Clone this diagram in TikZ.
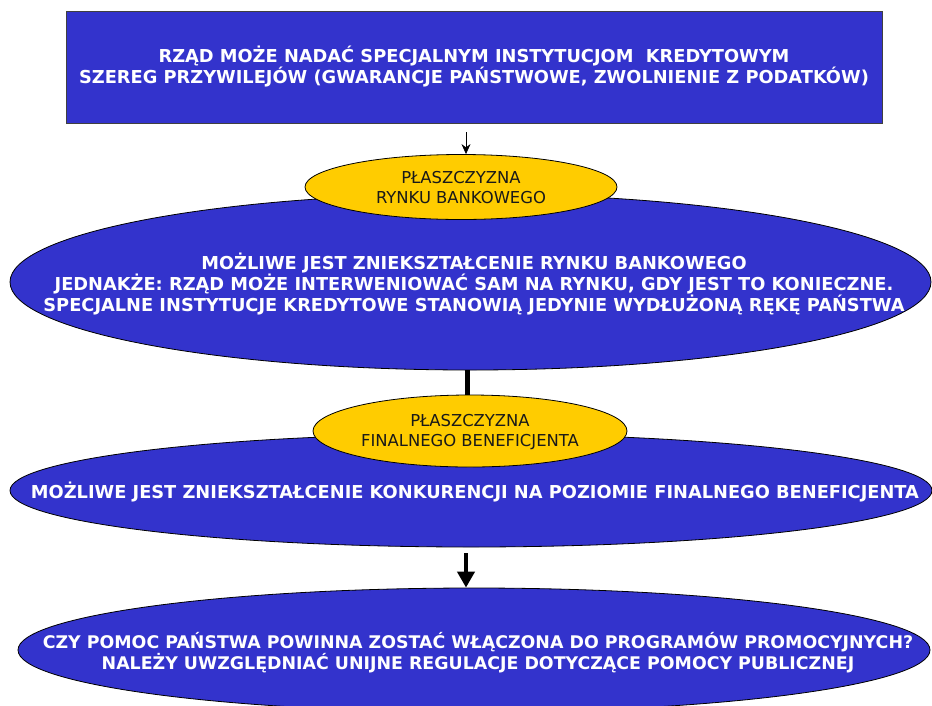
\documentclass[tikz,border=0pt]{standalone}
\usepackage{fontspec}
\setmainfont{DejaVu Sans}
\usetikzlibrary{shapes.geometric,arrows.meta}
\definecolor{panelblue}{HTML}{3333CC}
\definecolor{tagyellow}{HTML}{FFCC00}
\begin{document}
\begin{tikzpicture}[x=1pt,y=-1pt,
  blueoval/.style={ellipse, draw=black, line width=0.8pt, fill=panelblue, inner sep=0pt},
  tagoval/.style={ellipse, draw=black, line width=0.8pt, fill=tagyellow, inner sep=0pt},
  bluetext/.style={text=white, font=\bfseries\fontsize{17.8}{21}\selectfont, align=center, inner sep=0pt},
  tagtext/.style={text=black!90, font=\fontsize{16.4}{19.5}\selectfont, align=center, inner sep=0pt}]
\useasboundingbox (0,0) rectangle (932,705);
\clip (0,0) rectangle (932,705);

% header box
\node[draw=black!75, line width=0.8pt, fill=panelblue, minimum width=816pt, minimum height=112pt,
      bluetext] (top) at (474,67)
  {RZĄD MOŻE NADAĆ SPECJALNYM INSTYTUCJOM \ KREDYTOWYM\\
   SZEREG PRZYWILEJÓW (GWARANCJE PAŃSTWOWE, ZWOLNIENIE Z PODATKÓW)};

% banking market level
\node[blueoval, minimum width=921pt, minimum height=176pt] (bank) at (470.5,282) {};
\node[bluetext] (banktxt) at (474,284)
  {MOŻLIWE JEST ZNIEKSZTAŁCENIE RYNKU BANKOWEGO\\
   JEDNAKŻE: RZĄD MOŻE INTERWENIOWAĆ SAM NA RYNKU, GDY JEST TO KONIECZNE.\\
   SPECJALNE INSTYTUCJE KREDYTOWE STANOWIĄ JEDYNIE WYDŁUŻONĄ RĘKĘ PAŃSTWA};
\node[tagoval, minimum width=312pt, minimum height=65pt] (tagbank) at (461,187) {};
\node[tagtext] (tagbanktxt) at (461,187.5) {PŁASZCZYZNA\\RYNKU BANKOWEGO};

% final beneficiary level
\node[blueoval, minimum width=922pt, minimum height=113pt] (benef) at (471,490.5) {};
\node[bluetext] (beneftxt) at (475,492)
  {MOŻLIWE JEST ZNIEKSZTAŁCENIE KONKURENCJI NA POZIOMIE FINALNEGO BENEFICJENTA};
\node[tagoval, minimum width=314pt, minimum height=72pt] (tagbenef) at (470,431) {};
\node[tagtext] (tagbeneftxt) at (470,432) {PŁASZCZYZNA\\FINALNEGO BENEFICJENTA};

% question
\node[blueoval, minimum width=912pt, minimum height=124pt] (quest) at (474,650) {};
\node[bluetext, font=\bfseries\fontsize{17.4}{21}\selectfont] (questtxt) at (478,652.5)
  {CZY POMOC PAŃSTWA POWINNA ZOSTAĆ WŁĄCZONA DO PROGRAMÓW PROMOCYJNYCH?\\
   NALEŻY UWZGLĘDNIAĆ UNIJNE REGULACJE DOTYCZĄCE POMOCY PUBLICZNEJ};

% connectors
\coordinate (a1) at (466,132);
\draw[line width=0.8pt, -{Stealth[length=10pt,width=9pt]}] (a1) -- (a1 |- tagbank.north);
\coordinate (a3) at (467,370);
\draw[line width=5pt] (a3 |- bank.south) -- (a3 |- tagbenef.north);
\coordinate (a2) at (466,553);
\draw[line width=4pt, -{Triangle[length=16pt,width=17pt]}] (a2) -- (a2 |- quest.north);
\end{tikzpicture}
\end{document}
